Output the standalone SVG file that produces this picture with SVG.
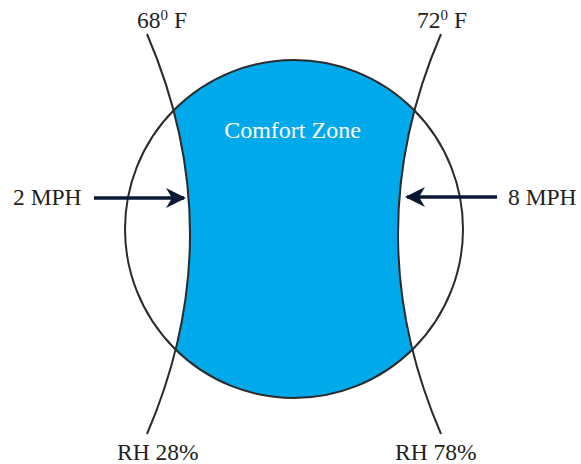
<svg xmlns="http://www.w3.org/2000/svg" width="581" height="464" viewBox="0 0 581 464">
<defs>
<style>
.lbl{font-family:"Liberation Serif","Times New Roman",serif;font-size:23.5px;fill:#231f20}
.sup{font-size:15px}
.ln{fill:none;stroke:#2b2b2b;stroke-width:2}
.arr{fill:none;stroke:#0b1733;stroke-width:3.5}
</style>
<clipPath id="cc"><circle cx="294" cy="229" r="169"/></clipPath>
<marker id="ah" viewBox="0 0 20 20" refX="18" refY="10" markerWidth="20" markerHeight="20" markerUnits="userSpaceOnUse" orient="auto">
<path d="M0,0 L20,10 L0,20 L6,10 Z" fill="#0b1733"/>
</marker>
</defs>
<g id="comfort-zone">
<path d="M147,34 Q233,234 147,434 L441,434 Q355,234 441,34 Z" fill="#00a9e9" clip-path="url(#cc)"/>
<circle cx="294" cy="229" r="169" class="ln"/>
<text x="292.5" y="138" text-anchor="middle" class="lbl" style="fill:#fff;font-size:24px">Comfort Zone</text>
</g>
<g id="connectors">
<path id="curve-left" d="M147,34 Q233,234 147,434" class="ln"/>
<path id="curve-right" d="M441,34 Q355,234 441,434" class="ln"/>
<path d="M94,198 L184,198" class="arr" marker-end="url(#ah)"/>
<path d="M497,197 L407,197" class="arr" marker-end="url(#ah)"/>
</g>
<g id="label-68F"><text x="137" y="28" class="lbl">68<tspan class="sup" dy="-8">0</tspan><tspan dy="8"> F</tspan></text></g>
<g id="label-72F"><text x="417" y="28" class="lbl">72<tspan class="sup" dy="-8">0</tspan><tspan dy="8"> F</tspan></text></g>
<g id="label-2mph"><text x="13" y="205" class="lbl">2 MPH</text></g>
<g id="label-8mph"><text x="508" y="205" class="lbl">8 MPH</text></g>
<g id="label-rh28"><text x="117" y="460" class="lbl">RH 28%</text></g>
<g id="label-rh78"><text x="395" y="460" class="lbl">RH 78%</text></g>
</svg>
